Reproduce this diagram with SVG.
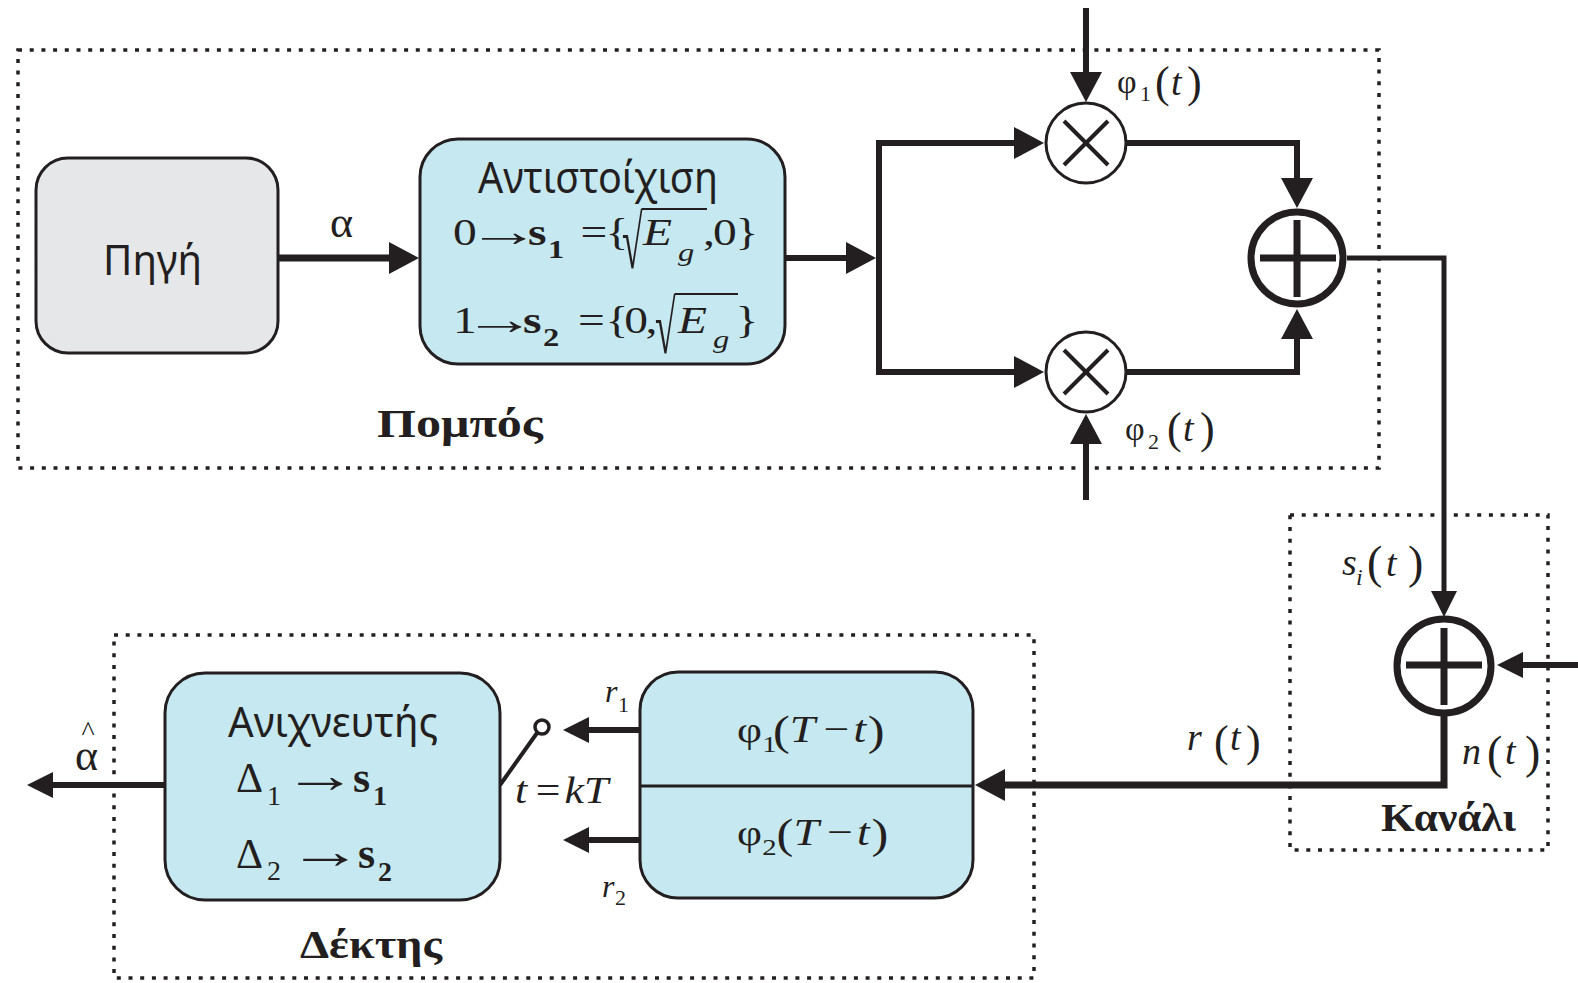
<svg xmlns="http://www.w3.org/2000/svg" width="1578" height="983" viewBox="0 0 1578 983">
  <defs>
    <style>
      .ln { fill: none; stroke: #231f20; stroke-width: 6; stroke-linejoin: miter; }
      .thin { stroke-width: 5; }
      .box { stroke: #231f20; stroke-width: 3; }
      .blue { fill: #c6e8f0; }
      .gray { fill: #e6e7e8; }
      .dot { fill: none; stroke: #231f20; stroke-width: 3.5; stroke-dasharray: 4 7.7; }
      .sym { fill: none; stroke: #231f20; stroke-width: 3; }
      .sum { fill: #fff; stroke: #231f20; stroke-width: 7; }
      .mul { fill: #fff; stroke: #231f20; stroke-width: 3; }
      .bar { stroke: #231f20; stroke-width: 7; }
      .cross { stroke: #231f20; stroke-width: 4; }
      .m { font-family: "Liberation Serif", "Times New Roman", serif; fill: #231f20; font-size: 38px; }
      .i { font-style: italic; }
      .b { font-weight: bold; }
      .sub { font-size: 24px; }
      .par { font-size: 46px; }
      .sans { font-family: "Noto Sans", "DejaVu Sans", sans-serif; fill: #231f20; }
      .title { font-family: "Liberation Serif", "Times New Roman", serif; font-weight: bold; fill: #231f20; font-size: 40px; }
      .vin { stroke: #231f20; stroke-width: 2.2; }
    </style>
    <marker id="ah" markerUnits="userSpaceOnUse" viewBox="0 0 30 32" markerWidth="30" markerHeight="32" refX="10" refY="16" orient="auto">
      <path d="M0,0 L30,16 L0,32 z" fill="#231f20"/>
    </marker>
    <marker id="as" markerUnits="userSpaceOnUse" viewBox="0 0 26 26" markerWidth="26" markerHeight="26" refX="8" refY="13" orient="auto">
      <path d="M0,0 L26,13 L0,26 z" fill="#231f20"/>
    </marker>
  </defs>

  <!-- dotted subsystem frames -->
  <g id="frames">
    <rect class="dot" x="18" y="50" width="1361" height="418"/>
    <rect class="dot" x="1290" y="515" width="258" height="335"/>
    <rect class="dot" x="114" y="635" width="920" height="343"/>
    <text class="title" x="377" y="437" textLength="166" lengthAdjust="spacingAndGlyphs">Πομπός</text>
    <text class="title" x="1381" y="831" textLength="135" lengthAdjust="spacingAndGlyphs">Κανάλι</text>
    <text class="title" x="300" y="958" textLength="142" lengthAdjust="spacingAndGlyphs">Δέκτης</text>
  </g>

  <!-- connectors -->
  <g id="connectors">
    <line class="ln" x1="278" y1="258" x2="399" y2="258" style="stroke-width:7" marker-end="url(#ah)"/>
    <line class="ln" x1="785" y1="258" x2="856" y2="258" marker-end="url(#ah)"/>
    <path class="ln" d="M879,372 V143 H1024" marker-end="url(#ah)"/>
    <path class="ln" d="M879,258 V372 H1024" marker-end="url(#ah)"/>
    <line class="ln" x1="1086" y1="8" x2="1086" y2="82" marker-end="url(#ah)"/>
    <line class="ln" x1="1086" y1="500" x2="1086" y2="434" marker-end="url(#ah)"/>
    <path class="ln" d="M1126,143 H1297 V188" marker-end="url(#ah)"/>
    <path class="ln" d="M1126,372 H1297 V329" marker-end="url(#ah)"/>
    <path class="ln thin" d="M1347,258 H1444 V599" marker-end="url(#as)"/>
    <line class="ln" x1="1578" y1="665" x2="1515" y2="665" marker-end="url(#as)"/>
    <path class="ln" d="M1444,716 V785 H995" style="stroke-width:7" marker-end="url(#ah)"/>
    <line class="ln" x1="640" y1="730" x2="581" y2="730" marker-end="url(#as)"/>
    <line class="ln" x1="640" y1="840" x2="581" y2="840" marker-end="url(#as)"/>
    <line class="ln" x1="165" y1="785" x2="45" y2="785" marker-end="url(#as)"/>
    <!-- sampling switch -->
    <line class="sym" x1="500" y1="785" x2="537" y2="733" style="stroke-width:4"/>
    <circle class="sym" cx="542" cy="727" r="7" style="fill:#fff;stroke-width:3.5"/>
  </g>

  <!-- connector labels -->
  <g id="labels">
    <text class="m" x="330" y="237" style="font-size:44px">α</text>
    <text class="m" x="88" y="740" text-anchor="middle" style="font-size:28px">^</text>
    <text class="m" x="75" y="770" style="font-size:44px">α</text>

    <text class="m" x="1117" y="93" style="font-size:34px">φ</text>
    <text class="m sub" x="1140" y="101" style="font-size:22px">1</text>
    <text class="m par" x="1155" y="97" style="font-size:44px">(</text>
    <text class="m i" x="1171" y="95">t</text>
    <text class="m par" x="1187" y="97" style="font-size:44px">)</text>

    <text class="m" x="1125" y="440" style="font-size:34px">φ</text>
    <text class="m sub" x="1148" y="449" style="font-size:22px">2</text>
    <text class="m par" x="1167" y="443" style="font-size:44px">(</text>
    <text class="m i" x="1183" y="441">t</text>
    <text class="m par" x="1200" y="443" style="font-size:44px">)</text>

    <text class="m i" x="1342" y="575">s</text>
    <text class="m i sub" x="1356" y="585">i</text>
    <text class="m par" x="1367" y="578">(</text>
    <text class="m i" x="1386" y="576">t</text>
    <text class="m par" x="1408" y="578">)</text>

    <text class="m i" x="1462" y="764">n</text>
    <text class="m par" x="1487" y="768">(</text>
    <text class="m i" x="1505" y="764">t</text>
    <text class="m par" x="1525" y="768">)</text>

    <text class="m i" x="1187" y="750">r</text>
    <text class="m par" x="1214" y="756" style="font-size:44px">(</text>
    <text class="m i" x="1230" y="750">t</text>
    <text class="m par" x="1246" y="756" style="font-size:44px">)</text>

    <g transform="translate(515,0) scale(1.15,1) translate(-515,0)">
      <text class="m i" x="515" y="803">t</text>
      <text class="m" x="533" y="803">=</text>
      <text class="m i" x="558" y="803">k</text>
      <text class="m i" x="575" y="803">T</text>
    </g>

    <text class="m i" x="605" y="702" style="font-size:32px">r</text>
    <text class="m sub" x="618" y="712" style="font-size:22px">1</text>
    <text class="m i" x="602" y="897" style="font-size:32px">r</text>
    <text class="m sub" x="615" y="905" style="font-size:22px">2</text>
  </g>

  <g id="source">
    <rect class="box gray" x="36" y="158" width="242" height="195" rx="32"/>
    <text class="sans" x="103" y="275" style="font-size:42px" textLength="99" lengthAdjust="spacingAndGlyphs">Πηγή</text>
  </g>

  <g id="mapper">
    <rect class="box blue" x="420" y="139" width="365" height="225" rx="38"/>
    <text class="sans" x="478" y="193" style="font-size:44px" textLength="240" lengthAdjust="spacingAndGlyphs">Αντιστοίχιση</text>
    <!-- 0 -> s1 = {sqrt(Eg), 0}, set slightly wide -->
    <g transform="translate(453,0) scale(1.25,1) translate(-453,0)">
      <text class="m" x="453" y="245">0</text>
      <text class="m b" x="513" y="245">s</text>
      <text class="m b sub" x="529" y="258" style="font-size:26px">1</text>
      <text class="m" x="555" y="245">=</text>
      <text class="m" x="575" y="245">{</text>
      <text class="m i" x="605" y="245">E</text>
      <text class="m i sub" x="633" y="261" style="font-size:26px">g</text>
      <text class="m" x="653" y="245">,</text>
      <text class="m" x="661" y="245">0</text>
      <text class="m" x="679" y="245">}</text>
    </g>
    <text class="m" transform="translate(467,246) scale(1.93,1.15)" x="0" y="0">→</text>
    <text class="m" transform="translate(622,268) scale(0.5,1)" x="0" y="0" style="font-size:75px">√</text>
    <line class="vin" x1="642" y1="209" x2="707" y2="209"/>

    <!-- 1 -> s2 = {0, sqrt(Eg)} -->
    <g transform="translate(453,0) scale(1.25,1) translate(-453,0)">
      <text class="m" x="453" y="333">1</text>
      <text class="m b" x="509" y="333">s</text>
      <text class="m b sub" x="525" y="346" style="font-size:26px">2</text>
      <text class="m" x="553" y="333">=</text>
      <text class="m" x="575" y="333">{</text>
      <text class="m" x="590" y="333">0</text>
      <text class="m" x="607" y="333">,</text>
      <text class="m i" x="633" y="333">E</text>
      <text class="m i sub" x="661" y="348" style="font-size:26px">g</text>
      <text class="m" x="679" y="333">}</text>
    </g>
    <text class="m" transform="translate(463,334) scale(1.93,1.15)" x="0" y="0">→</text>
    <text class="m" transform="translate(655,353) scale(0.5,1)" x="0" y="0" style="font-size:75px">√</text>
    <line class="vin" x1="675" y1="294" x2="738" y2="294"/>
  </g>

  <g id="mult1">
    <circle class="mul" cx="1086" cy="143" r="40"/>
    <line class="cross" x1="1064" y1="121" x2="1108" y2="165"/>
    <line class="cross" x1="1108" y1="121" x2="1064" y2="165"/>
  </g>
  <g id="mult2">
    <circle class="mul" cx="1086" cy="372" r="40"/>
    <line class="cross" x1="1064" y1="350" x2="1108" y2="394"/>
    <line class="cross" x1="1108" y1="350" x2="1064" y2="394"/>
  </g>

  <g id="adder">
    <circle class="sum" cx="1297" cy="258" r="46"/>
    <line class="bar" x1="1260" y1="258" x2="1336" y2="258"/>
    <line class="bar" x1="1297" y1="220" x2="1297" y2="297"/>
  </g>

  <g id="channel-adder">
    <circle class="sum" cx="1444" cy="666" r="47"/>
    <line class="bar" x1="1406" y1="665" x2="1482" y2="665"/>
    <line class="bar" x1="1444" y1="628" x2="1444" y2="705"/>
  </g>

  <g id="filters">
    <rect class="box blue" x="640" y="672" width="333" height="226" rx="38"/>
    <line class="box" x1="640" y1="786" x2="973" y2="786"/>
    <g transform="translate(737,0) scale(1.2,1) translate(-737,0)">
      <text class="m" x="737" y="742" style="font-size:36px">φ</text>
      <text class="m sub" x="758" y="752">1</text>
      <text class="m" x="767" y="745" style="font-size:42px">(</text>
      <text class="m i" x="781" y="742">T</text>
      <text class="m" x="809" y="742">−</text>
      <text class="m i" x="834" y="742">t</text>
      <text class="m" x="846" y="745" style="font-size:42px">)</text>
    </g>
    <g transform="translate(737,0) scale(1.2,1) translate(-737,0)">
      <text class="m" x="737" y="845" style="font-size:36px">φ</text>
      <text class="m sub" x="758" y="855">2</text>
      <text class="m" x="770" y="848" style="font-size:42px">(</text>
      <text class="m i" x="784" y="845">T</text>
      <text class="m" x="812" y="845">−</text>
      <text class="m i" x="837" y="845">t</text>
      <text class="m" x="849" y="848" style="font-size:42px">)</text>
    </g>
  </g>

  <g id="detector">
    <rect class="box blue" x="165" y="673" width="335" height="227" rx="40"/>
    <text class="sans" x="228" y="737" style="font-size:42px" textLength="210" lengthAdjust="spacingAndGlyphs">Ανιχνευτής</text>
    <text class="m" x="236" y="792" style="font-size:42px">Δ</text>
    <text class="m sub" x="267" y="805" style="font-size:28px">1</text>
    <text class="m" transform="translate(283,792) scale(1.78,1.2)" x="0" y="0" style="font-size:42px">→</text>
    <text class="m b" x="353" y="792" style="font-size:44px">s</text>
    <text class="m b sub" x="373" y="805" style="font-size:28px">1</text>
    <text class="m" x="236" y="868" style="font-size:42px">Δ</text>
    <text class="m sub" x="267" y="880" style="font-size:28px">2</text>
    <text class="m" transform="translate(288,868) scale(1.78,1.2)" x="0" y="0" style="font-size:42px">→</text>
    <text class="m b" x="358" y="868" style="font-size:44px">s</text>
    <text class="m b sub" x="378" y="881" style="font-size:28px">2</text>
  </g>
</svg>
